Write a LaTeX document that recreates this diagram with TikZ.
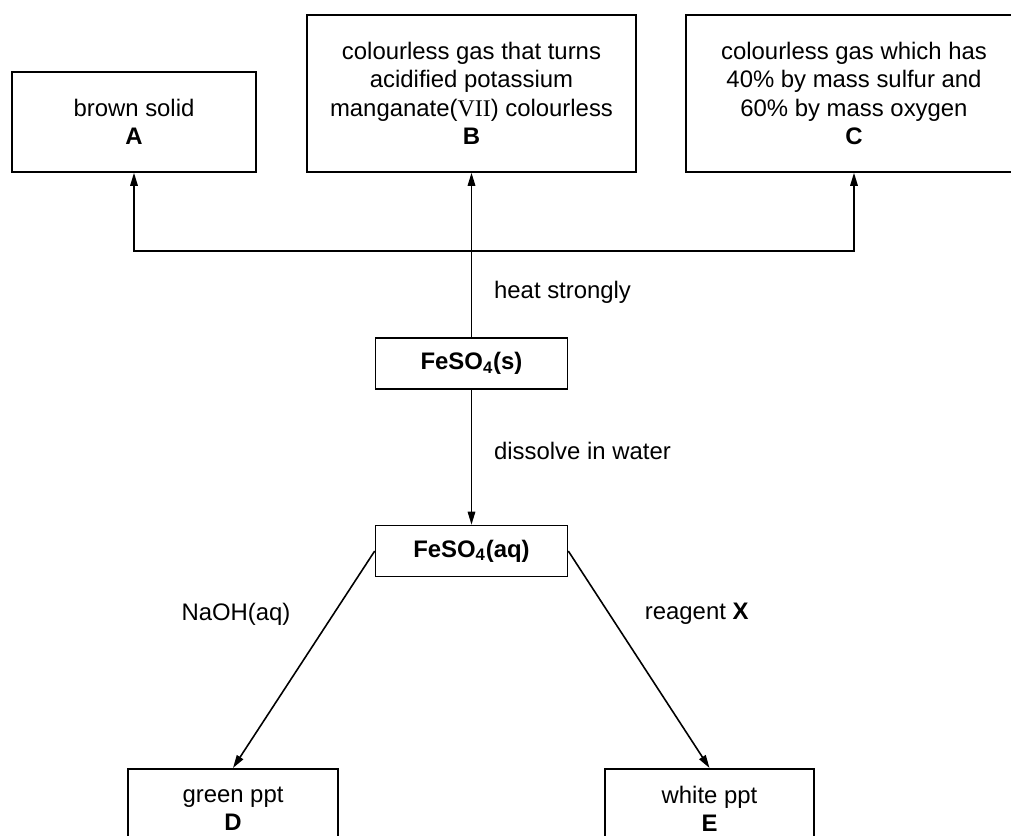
\documentclass[tikz,border=0pt]{standalone}
\usepackage{fontspec}
\setmainfont{Liberation Sans}
\newfontfamily\romanfont{Liberation Serif}
\usetikzlibrary{arrows.meta, positioning, calc}
\tikzset{
    result/.style={rectangle, draw=black, line width=0.9pt, align=center, inner sep=0pt},
    salt/.style={rectangle, draw=black, line width=0.9pt, minimum width=3.84cm, minimum height=1.02cm, text centered, font=\fontsize{13.6}{16.1}\selectfont\bfseries},
    arrow/.style={line width=0.9pt, -{Triangle[length=2.6mm, width=1.5mm]}}
}
\begin{document}
\begin{tikzpicture}[every node/.style={font=\fontsize{13.6}{16.1}\selectfont}]
        \useasboundingbox (0,0) rectangle (20.22,16.72);
        % Products of strong heating
        \node (A) [result, minimum width=4.88cm, minimum height=2cm] at (2.68,14.28) {brown solid\\\textbf{A}};
        \node (B) [result, minimum width=6.58cm, minimum height=3.14cm] at (9.43,14.85) {colourless gas that turns\\acidified potassium\\manganate({\romanfont VII}) colourless\\\textbf{B}};
        \node (C) [result, minimum width=6.72cm, minimum height=3.14cm] at (17.08,14.85) {colourless gas which has\\40\% by mass sulfur and\\60\% by mass oxygen\\\textbf{C}};
        
        % Iron(II) sulfate
        \node (solid) [salt] at (9.43,9.45) {FeSO\textsubscript{4}(s)};
        \node (soln) [salt] at (9.43,5.70) {FeSO\textsubscript{4}(aq)};
        
        % Precipitates
        \node (D) [result, minimum width=4.2cm, minimum height=1.6cm, anchor=north] at (4.66,1.36) {green ppt\\\textbf{D}};
        \node (E) [result, minimum width=4.18cm, minimum height=1.6cm, anchor=north] at (14.19,1.36) {white ppt\\\textbf{E}};
        
        % Flows
        \coordinate (split) at (9.43,11.70);
        \draw[arrow] (solid.north) -- node[pos=0.27, right=0.32cm] {heat strongly} (B.south);
        \draw[arrow] (split) -| (A.south);
        \draw[arrow] (split) -| (C.south);
        \draw[arrow] (solid) -- node[pos=0.45, right=0.32cm] {dissolve in water} (soln);
        \draw[arrow] (soln.west) -- node[pos=0.29, left=0.73cm] {NaOH(aq)} (D.north);
        \draw[arrow] (soln.east) -- node[pos=0.29, right=0.58cm] {reagent \textbf{X}} (E.north);
    \end{tikzpicture}
\end{document}
